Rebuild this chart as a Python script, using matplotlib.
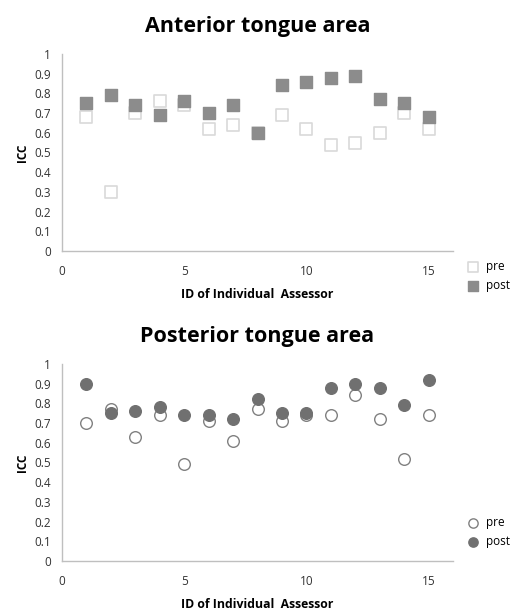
import matplotlib
matplotlib.use('Agg')
import matplotlib.pyplot as plt

plt.rcParams['font.family'] = ['Open Sans', 'DejaVu Sans']

ids = list(range(1, 16))

# Anterior tongue area
ant_pre = [0.68, 0.30, 0.70, 0.76, 0.74, 0.62, 0.64, 0.60, 0.69, 0.62, 0.54, 0.55, 0.60, 0.70, 0.62]
ant_post = [0.75, 0.79, 0.74, 0.69, 0.76, 0.70, 0.74, 0.60, 0.84, 0.86, 0.88, 0.89, 0.77, 0.75, 0.68]

# Posterior tongue area
post_pre = [0.70, 0.77, 0.63, 0.74, 0.49, 0.71, 0.61, 0.77, 0.71, 0.74, 0.74, 0.84, 0.72, 0.52, 0.74]
post_post = [0.90, 0.75, 0.76, 0.78, 0.74, 0.74, 0.72, 0.82, 0.75, 0.75, 0.88, 0.90, 0.88, 0.79, 0.92]

yticks = [0, 0.1, 0.2, 0.3, 0.4, 0.5, 0.6, 0.7, 0.8, 0.9, 1]
yticklabels = ['0', '0.1', '0.2', '0.3', '0.4', '0.5', '0.6', '0.7', '0.8', '0.9', '1']

fig = plt.figure(figsize=(5.25, 6.13), dpi=100)
ax1 = fig.add_axes([0.118, 0.5905, 0.745, 0.3215])
ax2 = fig.add_axes([0.118, 0.0848, 0.745, 0.3215])


def style_axes(ax, title):
    ax.set_xlim(0, 16)
    ax.set_ylim(0, 1)
    ax.set_xticks([0, 5, 10, 15])
    ax.set_yticks(yticks)
    ax.set_yticklabels(yticklabels)
    ax.tick_params(length=0, labelsize=8.5, colors='#333333')
    ax.tick_params(axis='x', pad=10)
    ax.tick_params(axis='y', pad=8)
    for s in ['top', 'right']:
        ax.spines[s].set_visible(False)
    for s in ['left', 'bottom']:
        ax.spines[s].set_color('#bfbfbf')
        ax.spines[s].set_linewidth(1)
    ax.set_xlabel('ID of Individual  Assessor', fontsize=8.8, fontweight='bold', labelpad=7)
    ax.set_ylabel('ICC', fontsize=8.5, fontweight='bold', labelpad=4)
    ax.set_title(title, fontsize=15.5, fontweight='bold', pad=16)


ax1.scatter(ids, ant_pre, marker='s', s=70, facecolors='white', edgecolors='#d9d9d9', linewidths=1.2, label='pre')
ax1.scatter(ids, ant_post, marker='s', s=70, facecolors='#8c8c8c', edgecolors='#8c8c8c', label='post')
style_axes(ax1, 'Anterior tongue area')
ax1.legend(loc='center left', bbox_to_anchor=(1.0, -0.125), frameon=False, fontsize=8.5,
           handletextpad=0.1, labelspacing=0.5, borderaxespad=0.3, markerscale=0.8)

ax2.scatter(ids, post_pre, marker='o', s=70, facecolors='white', edgecolors='#808080', linewidths=1.0, label='pre')
ax2.scatter(ids, post_post, marker='o', s=70, facecolors='#707070', edgecolors='#707070', label='post')
style_axes(ax2, 'Posterior tongue area')
ax2.legend(loc='center left', bbox_to_anchor=(1.0, 0.145), frameon=False, fontsize=8.5,
           handletextpad=0.1, labelspacing=0.5, borderaxespad=0.3, markerscale=0.8)

fig.savefig('out.png', dpi=100)
